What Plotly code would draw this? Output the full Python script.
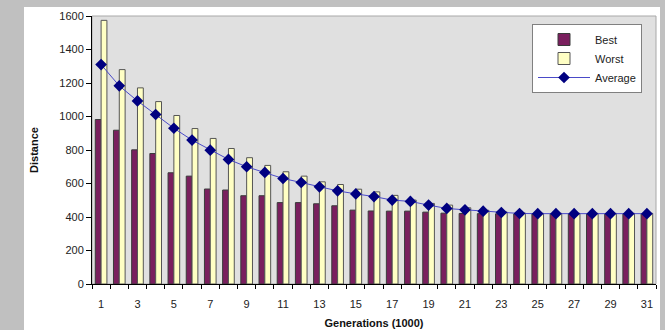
import plotly.graph_objects as go

generations = list(range(1, 32))
best = [982, 918, 801, 779, 664, 644, 567, 561, 527, 527, 486, 486, 479, 467, 441,
        436, 435, 435, 429, 423, 421, 420, 419, 418, 418, 418, 418, 418, 418, 418, 418]
worst = [1574, 1280, 1171, 1089, 1006, 928, 869, 809, 754, 708, 670, 644, 610, 594, 566,
         550, 529, 501, 481, 471, 455, 440, 430, 424, 422, 422, 422, 422, 422, 422, 422]
average = [1310, 1183, 1093, 1012, 930, 859, 799, 744, 700, 666, 630, 606, 580, 556, 538,
           522, 501, 493, 471, 451, 443, 435, 427, 421, 420, 420, 420, 420, 420, 420, 420]
x_tick_vals = [g for g in generations if g % 2 == 1]
x_tick_text = [str(g) for g in x_tick_vals]
y_tick_vals = [0, 200, 400, 600, 800, 1000, 1200, 1400, 1600]

FONT = "Arial, 'Liberation Sans', sans-serif"

fig = go.Figure()
fig.add_trace(go.Bar(x=generations, y=best, name="Best",
                     marker=dict(color="#7a1f5e", line=dict(color="#3a3a3a", width=1))))
fig.add_trace(go.Bar(x=generations, y=worst, name="Worst",
                     marker=dict(color="#ffffc4", line=dict(color="#555555", width=1))))
fig.add_trace(go.Scatter(x=generations, y=average, name="Average", mode="lines+markers",
                         line=dict(color="#4a4ac8", width=1),
                         marker=dict(symbol="diamond", size=9, color="#000080")))

L, R, T, B = 92, 9, 16, 46
W, H = 665, 330
pw, ph = W - L - R, H - T - B

def px_x(p):
    return (p - L) / pw

def px_y(p):
    return (H - B - p) / ph

fig.update_layout(
    width=W, height=H,
    margin=dict(l=L, r=R, t=T, b=B, autoexpand=False),
    paper_bgcolor="#c0c0c0",
    plot_bgcolor="rgba(0,0,0,0)",
    barmode="group", bargap=0.36, bargroupgap=0,
    font=dict(family=FONT, size=11, color="#222222"),
    showlegend=True,
    legend=dict(x=px_x(532), y=px_y(24), xanchor="left", yanchor="top",
                bgcolor="white", bordercolor="#808080", borderwidth=1,
                font=dict(size=11, color="#222222"), tracegroupgap=0,
                itemwidth=52),
    shapes=[
        dict(type="rect", xref="paper", yref="paper", layer="below",
             x0=px_x(24), x1=px_x(660), y0=px_y(345), y1=px_y(7),
             fillcolor="white", line=dict(width=0)),
        dict(type="rect", xref="paper", yref="paper", layer="below",
             x0=0, x1=1, y0=0, y1=1,
             fillcolor="#e0e0e0", line=dict(color="#a8a8a8", width=1)),
    ],
)
fig.update_xaxes(
    range=[0.5, 31.5], tickmode="array", tickvals=x_tick_vals, ticktext=x_tick_text,
    ticks="", showgrid=False, zeroline=False, ticklabelstandoff=10, automargin=False,
    showline=True, linecolor="black", linewidth=1,
    minor=dict(tickmode="array", tickvals=[g - 0.5 for g in generations] + [31.5],
               ticks="outside", ticklen=4, tickcolor="black", showgrid=False),
    tickfont=dict(size=11, color="#222222"),
    title=dict(text="<b>Generations (1000)</b>", font=dict(size=11, color="#111111"), standoff=10),
)
fig.update_yaxes(
    range=[0, 1600], tickmode="array", tickvals=y_tick_vals, automargin=False,
    ticks="outside", ticklen=5, tickcolor="black", showgrid=False, zeroline=False,
    showline=True, linecolor="black", linewidth=1,
    tickfont=dict(size=11, color="#222222"),
    title=dict(text="<b>Distance</b>", font=dict(size=11, color="#111111"), standoff=18),
)

fig.write_html("out.html", config={"displayModeBar": False},
               post_script="document.body.style.margin='0';")
